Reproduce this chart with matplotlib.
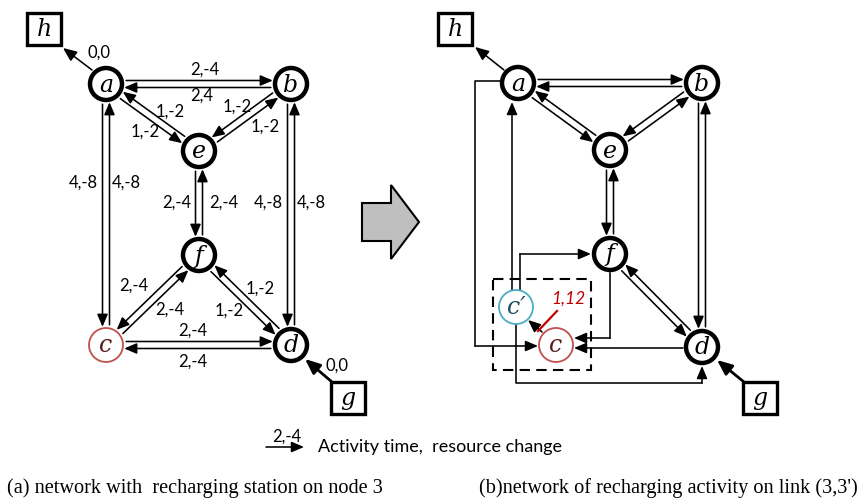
import numpy as np
import matplotlib.pyplot as plt
from matplotlib.patches import Circle, Rectangle, Polygon

# ---- dados do diagrama (coordenadas em pixels da figura) ----
nos_esq = {'a': (106, 84), 'b': (291, 84), 'e': (199, 151),
           'f': (199, 255), 'c': (106, 345), 'd': (291, 345)}
caixas_esq = {'h': (44, 29), 'g': (348, 398)}
pares_esq = [('a', 'b', 1), ('a', 'e', -1), ('b', 'e', -1), ('e', 'f', -1),
             ('a', 'c', -1), ('b', 'd', -1), ('f', 'c', -1), ('f', 'd', -1),
             ('c', 'd', 1)]
rotulos_esq = [('0,0', 99, 53), ('2,-4', 205, 70), ('2,4', 202, 96),
               ('1,-2', 170, 112), ('1,-2', 145, 132), ('1,-2', 237, 107),
               ('1,-2', 265, 127), ('4,-8', 83, 183), ('4,-8', 126, 183),
               ('2,-4', 177, 203), ('2,-4', 224, 203), ('4,-8', 268, 203),
               ('4,-8', 311, 203), ('2,-4', 134, 286), ('2,-4', 170, 310),
               ('1,-2', 260, 289), ('1,-2', 229, 311), ('2,-4', 193, 331),
               ('2,-4', 193, 362), ('0,0', 337, 366)]

nos_dir = {'a': (518, 83), 'b': (702, 83), 'e': (610, 150),
           'f': (610, 254), 'd': (702, 347)}
no_c = (556, 345)
no_cp = (516, 307)
caixas_dir = {'h': (455, 29), 'g': (760, 398)}
pares_dir = [('a', 'b', 1), ('a', 'e', -1), ('b', 'e', -1), ('e', 'f', -1),
             ('b', 'd', -1), ('f', 'd', -1)]
# caminhos em cotovelo (o ultimo trecho leva a seta)
caminhos_dir = [
    [(500, 81), (475, 81), (475, 346), (538, 346)],   # a -> c
    [(512, 291), (512, 102)],                         # c' -> a
    [(520, 291), (520, 254), (591, 254)],             # c' -> f
    [(610, 273), (610, 338), (574, 338)],             # f -> c
    [(683, 348), (574, 348)],                         # d -> c
    [(516, 324), (516, 383), (702, 383), (702, 366)], # c' -> d
    [(542, 332), (528, 320)],                         # c -> c'
]

legenda_rotulo = '2,-4'
legenda_texto = 'Activity time,  resource change'
titulo_a = '(a) network with  recharging station on node 3'
titulo_b = "(b)network of recharging activity on link (3,3')"

W, H = 865, 501
fig = plt.figure(figsize=(8.65, 5.01), dpi=100)
ax = fig.add_axes([0, 0, 1, 1])
ax.set_xlim(0, W)
ax.set_ylim(H, 0)
ax.axis('off')

R = 18.5
OFF = 3.5


def seta(p0, p1, lw=1.15, cor='black', ms=10):
    ax.annotate('', xy=p1, xytext=p0,
                arrowprops=dict(arrowstyle='-|>,head_length=0.75,head_width=0.32',
                                lw=lw, color=cor, shrinkA=0, shrinkB=0,
                                mutation_scale=ms), zorder=2)


def par(P, Q, lado):
    P = np.array(P, float)
    Q = np.array(Q, float)
    u = (Q - P) / np.linalg.norm(Q - P)
    n = np.array([u[1], -u[0]])
    ao_longo = np.sqrt(R ** 2 - OFF ** 2)
    for A, B, s in [(P, Q, lado), (Q, P, -lado)]:
        v = (B - A) / np.linalg.norm(B - A)
        d = s * OFF * n
        seta(A + v * (ao_longo + 2) + d, B - v * ao_longo + d)


def no(x, y, txt, ec='black', lw=3.2, cor_txt='black'):
    r = 16 if lw > 2 else 17
    ax.add_patch(Circle((x, y), r, fc='white', ec=ec, lw=lw, zorder=3))
    ax.text(x, y + 1, txt, fontsize=17, family='DejaVu Serif', style='italic',
            color=cor_txt, ha='center', va='center', zorder=4)


def caixa(x, y, txt):
    ax.add_patch(Rectangle((x - 17, y - 16), 34, 32, fc='white', ec='black',
                           lw=2.4, zorder=3))
    ax.text(x, y, txt, fontsize=17, family='DejaVu Serif', style='italic',
            ha='center', va='center', zorder=4)


# ---- painel (a) ----
for p, q, s in pares_esq:
    par(nos_esq[p], nos_esq[q], s)
seta((92, 70), (63, 48), ms=11)
seta((332, 382), (305, 359), lw=2, ms=12)
for k, (x, y) in nos_esq.items():
    if k == 'c':
        no(x, y, k, ec='#c0504d', lw=1.3, cor_txt='#5a1a1a')
    else:
        no(x, y, k)
for k, (x, y) in caixas_esq.items():
    caixa(x, y, k)
for t, x, y in rotulos_esq:
    ax.text(x, y, t, fontsize=12, family='Lato', ha='center', va='center')

# ---- seta cinza ----
ax.add_patch(Polygon([(362, 203), (391, 203), (391, 185), (419, 222),
                      (391, 259), (391, 241), (362, 241)],
                     closed=True, fc='#bfbfbf', ec='black', lw=1.5))

# ---- painel (b) ----
for p, q, s in pares_dir:
    par(nos_dir[p], nos_dir[q], s)
for cam in caminhos_dir:
    xs, ys = zip(*cam)
    ax.plot(xs[:-1], ys[:-1], color='black', lw=1.15, zorder=2)
    seta(cam[-2], cam[-1])
ax.plot([538, 557], [331, 311], color='#c00000', lw=1.6, zorder=2)
ax.text(568, 299, '1,12', fontsize=12.5, family='Lato', style='italic',
        color='#c00000', ha='center', va='center')
ax.add_patch(Rectangle((493, 279), 98, 91, fill=False, ec='black', lw=1.5,
                       ls=(0, (5, 3)), zorder=1))
seta((504, 70), (475, 47), ms=11)
seta((744, 382), (717, 360), lw=2, ms=12)
for k, (x, y) in nos_dir.items():
    no(x, y, k)
no(*no_c, 'c', ec='#c0504d', lw=1.3, cor_txt='#5a1a1a')
no(*no_cp, 'c\u2032', ec='#4bacc6', lw=1.3, cor_txt='#1f4e5f')
for k, (x, y) in caixas_dir.items():
    caixa(x, y, k)

# ---- legenda e titulos ----
seta((266, 447), (304, 447))
ax.text(287, 437, legenda_rotulo, fontsize=12, family='Lato',
        ha='center', va='center')
ax.text(318, 447, legenda_texto, fontsize=13, family='Lato',
        ha='left', va='center')
ax.text(7, 488, titulo_a, fontsize=14.6, family='Liberation Serif',
        ha='left', va='center')
ax.text(479, 488, titulo_b, fontsize=14.6, family='Liberation Serif',
        ha='left', va='center')

fig.savefig('out.png', dpi=100)
